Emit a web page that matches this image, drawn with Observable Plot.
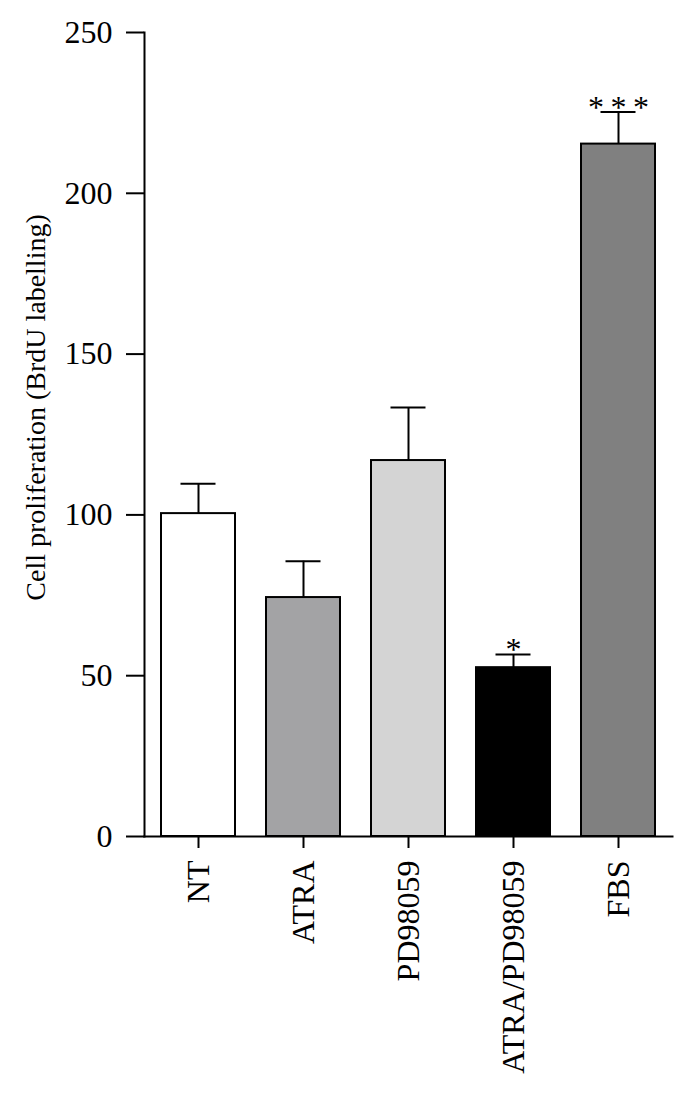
<!DOCTYPE html>
<html>
<head>
<meta charset="utf-8">
<script src="https://cdn.jsdelivr.net/npm/d3@7"></script>
<script src="https://cdn.jsdelivr.net/npm/@observablehq/plot@0.6"></script>
<style>
  html, body { margin: 0; padding: 0; background: #fff; }
  #chart svg { display: block; }
</style>
</head>
<body>
<div id="chart"></div>
<script>
const categories = ["NT", "ATRA", "PD98059", "ATRA/PD98059", "FBS"];
const means = [100.4, 74.3, 116.9, 52.5, 215.3];
const errors = [9.3, 11.3, 16.5, 4.1, 10.0];
const fills = ["#ffffff", "#a3a3a5", "#d4d4d4", "#000000", "#808080"];
const significance = ["", "", "", "*", "*\u2009*\u2009*"];
const yTicks = [0, 50, 100, 150, 200, 250];
const yTitle = ["Cell proliferation (BrdU labelling)"];

const data = categories.map((c, i) => ({
  cat: c, mean: means[i], err: errors[i], top: means[i] + errors[i],
  fill: fills[i], sig: significance[i]
}));

const font = "'Liberation Serif', 'Times New Roman', serif";

const chart = Plot.plot({
  width: 696,
  height: 1098,
  marginLeft: 144,
  marginRight: 24,
  marginTop: 32,
  marginBottom: 262,
  style: { fontFamily: font, fontSize: "28px", color: "#000", background: "#fff" },
  x: { domain: categories, paddingInner: 0.3, paddingOuter: 0.15 },
  y: { domain: [0, 250] },
  marks: [
    Plot.axisY({
      ticks: yTicks, tickSize: 18, tickPadding: 14, fontSize: 32, strokeWidth: 2,
      label: null
    }),
    Plot.text(yTitle, {
      frameAnchor: "left", rotate: -90, textAnchor: "middle", lineAnchor: "top",
      dx: -119, dy: -27, fontSize: 28, fill: "#000"
    }),
    Plot.axisX({
      tickSize: 12, tickPadding: 12, tickRotate: -90, fontSize: 32, strokeWidth: 2, label: null
    }),
    Plot.ruleX(data, { x: "cat", y1: "mean", y2: "top", stroke: "#000", strokeWidth: 2 }),
    Plot.tickY(data, { x: "cat", y: "top", stroke: "#000", strokeWidth: 2, insetLeft: 19.5, insetRight: 19.5 }),
    Plot.barY(data, { x: "cat", y: "mean", fill: "fill", stroke: "#000", strokeWidth: 2 }),
    Plot.frame({ anchor: "left", stroke: "#000", strokeWidth: 2 }),
    Plot.frame({ anchor: "bottom", stroke: "#000", strokeWidth: 2 }),
    Plot.text(data.filter(d => d.sig), {
      x: "cat", y: "top", text: "sig", fontSize: 32, lineAnchor: "bottom", dy: 6, fill: "#000"
    })
  ]
});
document.getElementById("chart").appendChild(chart);
</script>
</body>
</html>
